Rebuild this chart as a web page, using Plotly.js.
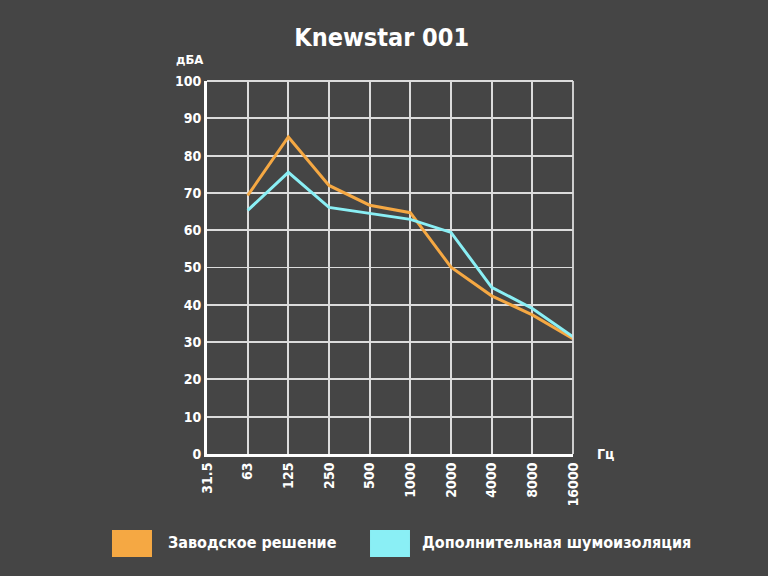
<!DOCTYPE html>
<html>
<head>
<meta charset="utf-8">
<script src="https://cdn.plot.ly/plotly-3.0.1.min.js"></script>
<style>html,body{margin:0;padding:0;background:#454545;}</style>
</head>
<body>
<div id="chart" style="width:768px;height:576px;"></div>
<script>
var categories = ["31.5","63","125","250","500","1000","2000","4000","8000","16000"];
var factoryName = "Заводское решение";
var factoryValues = [null, 69.3, 85, 72, 66.7, 64.7, 50.1, 42.4, 37.3, 30.9];
var insulatedName = "Дополнительная шумоизоляция";
var insulatedValues = [null, 65.3, 75.5, 66.1, 64.6, 62.9, 59.4, 44.7, 39, 31.4];
var yTicks = [0,10,20,30,40,50,60,70,80,90,100];
var titleText = "Knewstar 001";
var yUnit = "дБА";
var xUnit = "Гц";

var FONT = "'DejaVu Sans Condensed', 'Liberation Sans Narrow', 'Liberation Sans', Arial, sans-serif";
var orange = "#F5A843";
var cyan = "#8AEFF5";

var traces = [
  {x: categories, y: factoryValues, name: factoryName, type: "scatter", mode: "lines",
   line: {color: orange, width: 3}, connectgaps: false},
  {x: categories, y: insulatedValues, name: insulatedName, type: "scatter", mode: "lines",
   line: {color: cyan, width: 3}, connectgaps: false}
];

var layout = {
  width: 768, height: 576,
  paper_bgcolor: "#454545", plot_bgcolor: "#454545",
  margin: {l: 207, r: 195, t: 81, b: 122},
  showlegend: false,
  title: {text: "<b>" + titleText + "</b>", x: 0.497, xanchor: "center", y: 0.935, yanchor: "middle",
          font: {family: FONT, size: 25, color: "#ffffff"}},
  xaxis: {
    type: "category", categoryorder: "array", categoryarray: categories,
    range: [0, 9], tickangle: -90,
    showgrid: true, gridcolor: "#dcdcdc", gridwidth: 1.8,
    showline: true, linecolor: "#ffffff", linewidth: 3,
    ticks: "", ticklen: 0,
    tickfont: {family: FONT, size: 14, color: "#ffffff", weight: "bold"},
    fixedrange: true
  },
  yaxis: {
    range: [0, 100], tickvals: yTicks, ticktext: yTicks.map(String),
    showgrid: true, gridcolor: "#dcdcdc", gridwidth: 1.8,
    zeroline: false,
    showline: true, linecolor: "#ffffff", linewidth: 3,
    ticks: "", ticklen: 0,
    tickfont: {family: FONT, size: 14, color: "#ffffff", weight: "bold"},
    fixedrange: true
  },
  shapes: [
    {type: "line", xref: "paper", yref: "paper", x0: 0, x1: 1, y0: 1, y1: 1, line: {color: "#dcdcdc", width: 1.8}},
    {type: "line", xref: "paper", yref: "paper", x0: 1, x1: 1, y0: 0, y1: 1, line: {color: "#dcdcdc", width: 1.8}},
    {type: "rect", xref: "paper", yref: "paper", x0: -0.2596, x1: -0.1503, y0: -0.2038, y1: -0.2761,
     fillcolor: orange, line: {width: 0}},
    {type: "rect", xref: "paper", yref: "paper", x0: 0.4454, x1: 0.5546, y0: -0.2038, y1: -0.2761,
     fillcolor: cyan, line: {width: 0}}
  ],
  annotations: [
    {text: "<b>" + yUnit + "</b>", xref: "paper", yref: "paper", x: -0.005, y: 1.058, xanchor: "right", yanchor: "middle",
     showarrow: false, font: {family: FONT, size: 13, color: "#ffffff"}},
    {text: "<b>" + xUnit + "</b>", xref: "paper", yref: "paper", x: 1.06, y: 0.0, xanchor: "left", yanchor: "middle",
     showarrow: false, font: {family: FONT, size: 14, color: "#ffffff"}},
    {text: "<b>" + factoryName + "</b>", xref: "paper", yref: "paper", x: -0.112, y: -0.2386, xanchor: "left", yanchor: "middle",
     showarrow: false, font: {family: FONT, size: 16, color: "#ffffff"}},
    {text: "<b>" + insulatedName + "</b>", xref: "paper", yref: "paper", x: 0.582, y: -0.2386, xanchor: "left", yanchor: "middle",
     showarrow: false, font: {family: FONT, size: 16, color: "#ffffff"}}
  ]
};

Plotly.newPlot("chart", traces, layout, {displayModeBar: false, staticPlot: true});
</script>
</body>
</html>
